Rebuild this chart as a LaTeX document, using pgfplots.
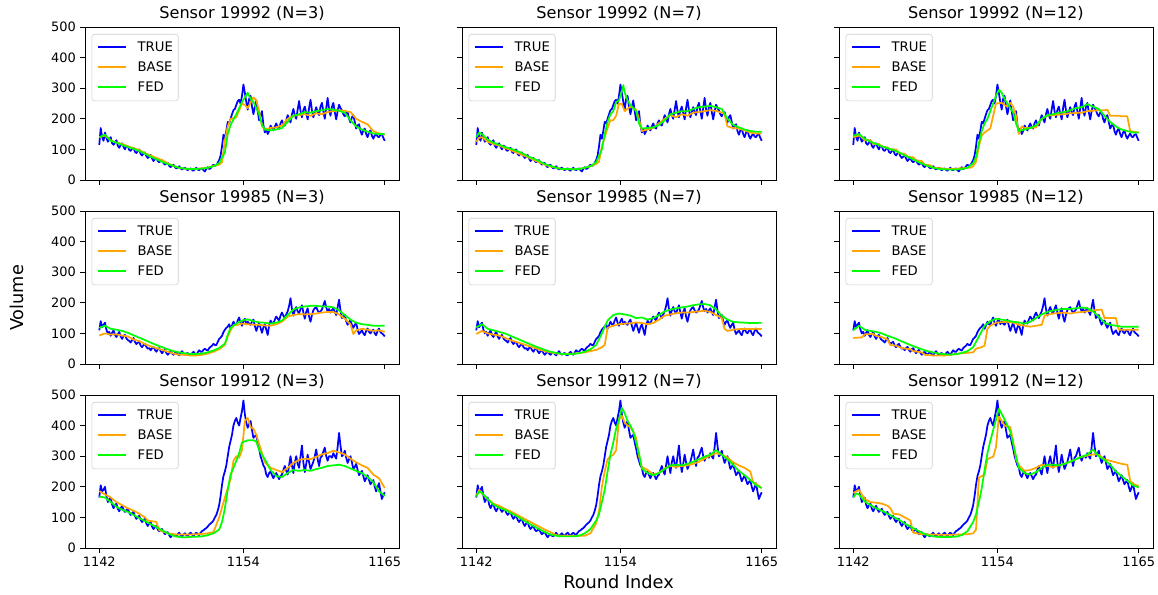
\documentclass[border=0pt]{standalone}
\usepackage{fontspec}
\setmainfont{DejaVu Sans}
\usepackage{pgfplots}
\usepackage{pgfplotstable}
\pgfplotsset{compat=1.18}

\definecolor{cTrue}{RGB}{0,0,255}
\definecolor{cBase}{RGB}{255,165,0}
\definecolor{cFed}{RGB}{0,255,0}

\pgfplotstableread[row sep=\\]{x y\\0 115\\0.5 170\\1 140\\1.5 128\\2 155\\2.5 138\\3 125\\3.5 132\\4 140\\4.5 120\\5 115\\5.5 122\\6 130\\6.5 112\\7 105\\7.5 115\\8 120\\8.5 108\\9 100\\9.5 112\\10 110\\10.5 98\\11 95\\11.5 102\\12 105\\12.5 92\\13 88\\13.5 95\\14 100\\14.5 85\\15 80\\15.5 88\\16 90\\16.5 78\\17 72\\17.5 76\\18 82\\18.5 70\\19 62\\19.5 68\\20 72\\20.5 62\\21 58\\21.5 62\\22 65\\22.5 55\\23 50\\23.5 54\\24 56\\24.5 46\\25 42\\25.5 48\\26 50\\26.5 42\\27 38\\27.5 40\\28 45\\28.5 38\\29 34\\29.5 38\\30 40\\30.5 35\\31 32\\31.5 36\\32 38\\32.5 33\\33 30\\33.5 36\\34 40\\34.5 34\\35 32\\35.5 36\\36 38\\36.5 32\\37 28\\37.5 36\\38 42\\38.5 36\\39 38\\39.5 45\\40 50\\40.5 46\\41 48\\41.5 56\\42 65\\42.5 80\\43 110\\43.5 148\\44 135\\44.5 160\\45 190\\45.5 185\\46 200\\46.5 215\\47 228\\47.5 232\\48 245\\48.5 258\\49 262\\49.5 250\\50 275\\50.5 312\\51 285\\51.5 255\\52 230\\52.5 265\\53 275\\53.5 240\\54 215\\54.5 238\\55 260\\55.5 225\\56 195\\56.5 210\\57 225\\57.5 180\\58 155\\58.5 168\\59 150\\59.5 160\\60 178\\60.5 170\\61 162\\61.5 175\\62 185\\62.5 172\\63 168\\63.5 185\\64 195\\64.5 182\\65 178\\65.5 195\\66 212\\66.5 200\\67 188\\67.5 215\\68 232\\68.5 212\\69 200\\69.5 230\\70 258\\70.5 225\\71 205\\71.5 228\\72 240\\72.5 218\\73 198\\73.5 235\\74 262\\74.5 228\\75 205\\75.5 222\\76 238\\76.5 222\\77 212\\77.5 240\\78 252\\78.5 225\\79 200\\79.5 235\\80 268\\80.5 232\\81 210\\81.5 238\\82 252\\82.5 222\\83 198\\83.5 225\\84 246\\84.5 235\\85 228\\85.5 215\\86 208\\86.5 220\\87 222\\87.5 200\\88 188\\88.5 205\\89 212\\89.5 190\\90 168\\90.5 178\\91 182\\91.5 160\\92 148\\92.5 162\\93 168\\93.5 150\\94 140\\94.5 155\\95 162\\95.5 145\\96 135\\96.5 145\\97 152\\97.5 142\\98 140\\98.5 148\\99 150\\99.5 138\\100 128\\}\trueA

\pgfplotstableread[row sep=\\]{x y\\0 110\\0.5 140\\1 120\\1.5 128\\2 135\\2.5 112\\3 100\\3.5 105\\4 92\\4.5 102\\5 110\\5.5 95\\6 88\\6.5 98\\7 105\\7.5 90\\8 82\\8.5 92\\9 95\\9.5 84\\10 78\\10.5 76\\11 70\\11.5 78\\12 85\\12.5 72\\13 65\\13.5 70\\14 72\\14.5 60\\15 55\\15.5 62\\16 66\\16.5 56\\17 50\\17.5 52\\18 45\\18.5 52\\19 56\\19.5 46\\20 40\\20.5 48\\21 52\\21.5 42\\22 35\\22.5 42\\23 46\\23.5 36\\24 30\\24.5 36\\25 40\\25.5 34\\26 30\\26.5 36\\27 38\\27.5 32\\28 28\\28.5 36\\29 42\\29.5 34\\30 30\\30.5 34\\31 36\\31.5 30\\32 28\\32.5 35\\33 40\\33.5 34\\34 30\\34.5 38\\35 45\\35.5 40\\36 40\\36.5 46\\37 50\\37.5 46\\38 44\\38.5 52\\39 56\\39.5 60\\40 66\\40.5 62\\41 62\\41.5 72\\42 82\\42.5 86\\43 92\\43.5 104\\44 112\\44.5 118\\45 122\\45.5 130\\46 115\\46.5 126\\47 138\\47.5 130\\48 128\\48.5 142\\49 152\\49.5 135\\50 125\\50.5 140\\51 148\\51.5 130\\52 138\\52.5 132\\53 128\\53.5 138\\54 145\\54.5 125\\55 108\\55.5 122\\56 135\\56.5 118\\57 102\\57.5 120\\58 130\\58.5 112\\59 95\\59.5 125\\60 142\\60.5 135\\61 132\\61.5 145\\62 155\\62.5 148\\63 142\\63.5 158\\64 168\\64.5 158\\65 150\\65.5 162\\66 172\\66.5 190\\67 215\\67.5 180\\68 158\\68.5 175\\69 186\\69.5 172\\70 165\\70.5 180\\71 192\\71.5 168\\72 148\\72.5 170\\73 182\\73.5 155\\74 138\\74.5 160\\75 176\\75.5 182\\76 186\\76.5 175\\77 168\\77.5 172\\78 178\\78.5 192\\79 206\\79.5 185\\80 172\\80.5 180\\81 168\\81.5 176\\82 182\\82.5 170\\83 160\\83.5 185\\84 210\\84.5 175\\85 150\\85.5 155\\86 160\\86.5 140\\87 128\\87.5 138\\88 142\\88.5 128\\89 118\\89.5 128\\90 135\\90.5 112\\91 98\\91.5 104\\92 110\\92.5 100\\93 94\\93.5 108\\94 116\\94.5 105\\95 100\\95.5 108\\96 112\\96.5 100\\97 94\\97.5 108\\98 116\\98.5 104\\99 100\\99.5 96\\100 90\\}\trueB

\pgfplotstableread[row sep=\\]{x y\\0 165\\0.5 205\\1 185\\1.5 190\\2 200\\2.5 170\\3 150\\3.5 160\\4 165\\4.5 142\\5 130\\5.5 140\\6 145\\6.5 128\\7 120\\7.5 130\\8 138\\8.5 125\\9 118\\9.5 124\\10 128\\10.5 115\\11 108\\11.5 114\\12 118\\12.5 104\\13 95\\13.5 102\\14 105\\14.5 92\\15 85\\15.5 92\\16 95\\16.5 80\\17 72\\17.5 80\\18 85\\18.5 70\\19 62\\19.5 68\\20 72\\20.5 60\\21 55\\21.5 58\\22 62\\22.5 52\\23 45\\23.5 50\\24 52\\24.5 42\\25 35\\25.5 42\\26 45\\26.5 40\\27 38\\27.5 45\\28 50\\28.5 42\\29 38\\29.5 44\\30 48\\30.5 42\\31 40\\31.5 46\\32 50\\32.5 44\\33 40\\33.5 46\\34 50\\34.5 45\\35 42\\35.5 50\\36 55\\36.5 58\\37 62\\37.5 65\\38 70\\38.5 76\\39 80\\39.5 84\\40 90\\40.5 100\\41 108\\41.5 122\\42 140\\42.5 170\\43 207\\43.5 235\\44 250\\44.5 270\\45 300\\45.5 330\\46 350\\46.5 370\\47 400\\47.5 415\\48 425\\48.5 410\\49 400\\49.5 425\\50 448\\50.5 482\\51 437\\51.5 410\\52 393\\52.5 405\\53 415\\53.5 385\\54 360\\54.5 365\\55 370\\55.5 345\\56 325\\56.5 300\\57 285\\57.5 270\\58 262\\58.5 240\\59 232\\59.5 245\\60 250\\60.5 238\\61 228\\61.5 240\\62 245\\62.5 235\\63 225\\63.5 235\\64 240\\64.5 255\\65 268\\65.5 252\\66 240\\66.5 270\\67 300\\67.5 270\\68 245\\68.5 280\\69 300\\69.5 275\\70 262\\70.5 300\\71 335\\71.5 280\\72 248\\72.5 275\\73 305\\73.5 280\\74 258\\74.5 270\\75 282\\75.5 300\\76 322\\76.5 290\\77 268\\77.5 295\\78 300\\78.5 315\\79 328\\79.5 300\\80 285\\80.5 300\\81 300\\81.5 295\\82 310\\82.5 300\\83 292\\83.5 330\\84 376\\84.5 335\\85 300\\85.5 305\\86 318\\86.5 295\\87 278\\87.5 290\\88 300\\88.5 280\\89 258\\89.5 265\\90 275\\90.5 255\\91 238\\91.5 245\\92 252\\92.5 235\\93 218\\93.5 228\\94 238\\94.5 222\\95 208\\95.5 215\\96 222\\96.5 200\\97 185\\97.5 198\\98 212\\98.5 185\\99 160\\99.5 172\\100 182\\}\trueC

\newcommand{\legl}[1]{\tikz[baseline=-3.4pt]\draw[#1, line width=1.3pt] (0pt,0pt) -- (21pt,0pt);}
\newcommand{\manleg}{\node[anchor=north west, draw=black!20, rounded corners=2pt, fill=white, inner xsep=4pt, inner ysep=2.5pt, xshift=5pt, yshift=-5.25pt, font=\fontsize{9.9}{15}\selectfont] at (rel axis cs:0,1) {\begin{tabular}{@{}l@{\hspace{8pt}}l@{}}\legl{cTrue}&TRUE\\\legl{cBase}&BASE\\\legl{cFed}&FED\end{tabular}};}

\pgfplotsset{
  panel/.style={
    scale only axis, width=235.5pt, height=114.75pt,
    xmin=-5, xmax=105, ymin=0, ymax=500,
    xtick={0,50.5,100}, xticklabels={1142,1154,1165},
    ytick={0,100,200,300,400,500},
    tick align=outside, tickpos=left,
    major tick length=3.4pt,
    tick style={black, line width=0.6pt},
    axis line style={line width=0.6pt},
    ticklabel style={font=\fontsize{9.7}{11}\selectfont},
    /pgf/number format/assume math mode=true,
    title style={font=\fontsize{12.1}{14}\selectfont, at={(0.5,1)}, anchor=base, yshift=0.2pt, inner sep=0pt},
  },
  noxl/.style={xticklabels={}},
  noyl/.style={yticklabels={}},
  sTrue/.style={color=cTrue, line width=1.3pt, line join=round},
  sBase/.style={color=cBase, line width=1.3pt, line join=round},
  sFed/.style={color=cFed, line width=1.3pt, line join=round},
}

\begin{document}
\begin{tikzpicture}
\useasboundingbox (0pt,0pt) rectangle (868.5pt,-446.25pt);

% Row 1
\begin{axis}[panel, noxl, at={(63.75pt,-20.25pt)}, anchor=north west, title={Sensor 19992 (N=3)}]
\addplot[sTrue] table {\trueA};
\addplot[sBase] coordinates {(0,140)(2,145)(4,130)(6,122)(8,118)(10,110)(12,104)(14,98)(16,88)(18,80)(20,72)(22,65)(24,55)(26,46)(28,40)(30,37)(32,36)(34,37)(36,38)(38,40)(40,46)(42,50)(43,58)(44,130)(45,175)(46,200)(48,205)(50,250)(51,245)(52,235)(54,270)(55,260)(56,225)(57,175)(58,165)(60,170)(62,172)(64,178)(66,200)(68,210)(70,212)(72,215)(74,210)(76,218)(78,215)(80,222)(82,225)(84,228)(86,226)(88,222)(90,200)(92,190)(94,182)(96,160)(98,152)(100,148)};
\addplot[sFed] coordinates {(0,140)(2,148)(4,128)(6,122)(8,115)(10,108)(12,102)(14,95)(16,86)(18,76)(20,68)(22,60)(24,52)(26,46)(28,40)(30,37)(32,36)(34,36)(36,37)(38,40)(40,45)(42,55)(44,90)(45,150)(46,180)(48,215)(50,255)(51,270)(52,285)(53,265)(54,255)(56,215)(57,180)(58,165)(60,162)(62,165)(64,170)(66,190)(68,210)(70,215)(72,222)(74,220)(76,225)(78,228)(80,232)(82,230)(84,226)(86,220)(88,195)(90,175)(92,165)(94,158)(96,152)(98,150)(100,150)};
\manleg
\end{axis}

\begin{axis}[panel, noxl, noyl, at={(346.5pt,-20.25pt)}, anchor=north west, title={Sensor 19992 (N=7)}]
\addplot[sTrue] table {\trueA};
\addplot[sBase] coordinates {(0,125)(1,138)(2,140)(4,125)(6,118)(8,112)(10,105)(12,98)(14,90)(16,82)(18,75)(20,66)(22,58)(24,50)(26,44)(28,40)(30,36)(32,35)(34,35)(36,36)(38,40)(40,45)(42,52)(43,60)(44,110)(45,140)(46,170)(47,195)(48,195)(49,210)(50,250)(51,248)(52,225)(54,240)(56,230)(57,200)(58,160)(60,165)(62,170)(64,185)(66,200)(68,212)(70,205)(72,215)(74,210)(76,220)(78,222)(80,225)(82,228)(84,226)(86,220)(87,215)(88,175)(90,170)(92,168)(94,162)(96,155)(98,152)(100,152)};
\addplot[sFed] coordinates {(0,140)(1,155)(2,150)(4,132)(6,122)(8,115)(10,108)(12,102)(14,96)(16,88)(18,78)(20,70)(22,62)(24,52)(26,46)(28,40)(30,36)(32,36)(34,35)(36,36)(38,40)(40,45)(42,58)(44,100)(45,150)(46,190)(47,215)(48,225)(49,255)(50,260)(51,290)(51.5,310)(52,285)(53,260)(54,245)(56,225)(57,185)(58,168)(60,170)(62,172)(64,180)(66,195)(68,215)(70,220)(72,225)(74,225)(76,232)(78,238)(80,240)(82,242)(84,238)(86,232)(88,200)(90,180)(92,172)(94,165)(96,160)(98,158)(100,158)};
\manleg
\end{axis}

\begin{axis}[panel, noxl, noyl, at={(629.25pt,-20.25pt)}, anchor=north west, title={Sensor 19992 (N=12)}]
\addplot[sTrue] table {\trueA};
\addplot[sBase] coordinates {(0,140)(2,145)(3,140)(4,130)(6,130)(7,118)(9,118)(10,110)(12,106)(13,100)(15,100)(16,88)(18,86)(19,76)(21,74)(22,64)(24,62)(25,50)(27,48)(28,40)(31,38)(32,36)(36,36)(37,38)(41,40)(42,45)(43,60)(44,110)(45,145)(46,155)(47,162)(48,168)(49,210)(50,250)(52,252)(53,245)(54,240)(55,252)(56,240)(57,210)(58,150)(59,175)(60,170)(62,170)(64,172)(66,200)(68,210)(70,212)(74,215)(76,218)(80,220)(82,225)(86,228)(88,228)(89,230)(90,210)(93,210)(94,208)(96,208)(97,160)(100,155)};
\addplot[sFed] coordinates {(0,145)(2,150)(4,135)(6,125)(8,118)(10,110)(12,104)(14,98)(16,90)(18,80)(20,72)(22,62)(24,54)(26,46)(28,40)(30,36)(32,35)(34,34)(36,34)(38,36)(40,40)(42,55)(43,75)(44,120)(45,160)(46,185)(47,200)(48,225)(49,250)(50,275)(51,295)(52,285)(53,265)(54,250)(56,220)(57,185)(58,160)(60,165)(62,170)(64,178)(66,200)(68,212)(70,215)(72,220)(74,222)(76,228)(78,235)(80,238)(82,248)(84,240)(86,232)(88,210)(90,190)(92,175)(94,165)(96,160)(98,155)(100,155)};
\manleg
\end{axis}

% Row 2
\begin{axis}[panel, noxl, at={(63.75pt,-158.25pt)}, anchor=north west, title={Sensor 19985 (N=3)}]
\addplot[sTrue] table {\trueB};
\addplot[sBase] coordinates {(0,93)(2,100)(4,96)(6,97)(8,93)(10,90)(12,80)(14,75)(16,65)(18,58)(20,52)(22,46)(24,40)(26,34)(28,30)(30,30)(32,28)(34,28)(36,30)(38,34)(40,40)(42,48)(44,62)(45,90)(46,110)(47,125)(48,127)(50,132)(52,130)(54,128)(56,128)(58,126)(60,125)(62,130)(64,138)(66,155)(68,160)(70,163)(72,162)(74,163)(76,165)(78,168)(80,170)(82,170)(84,162)(86,148)(88,130)(89,98)(90,110)(92,115)(94,112)(96,108)(98,110)(100,105)};
\addplot[sFed] coordinates {(0,118)(2,125)(4,115)(6,112)(8,108)(10,102)(12,94)(14,86)(16,78)(18,70)(20,62)(22,55)(24,48)(26,42)(28,38)(30,35)(32,33)(34,33)(36,34)(38,38)(40,44)(42,52)(44,66)(45,95)(46,118)(48,132)(50,142)(52,146)(54,140)(56,136)(58,135)(60,132)(62,135)(64,142)(66,160)(68,178)(70,185)(72,188)(74,190)(76,190)(78,188)(80,188)(82,185)(84,175)(86,160)(88,145)(90,135)(92,130)(94,128)(96,125)(98,125)(100,125)};
\manleg
\end{axis}

\begin{axis}[panel, noxl, noyl, at={(346.5pt,-158.25pt)}, anchor=north west, title={Sensor 19985 (N=7)}]
\addplot[sTrue] table {\trueB};
\addplot[sBase] coordinates {(0,98)(2,108)(4,100)(6,96)(8,93)(10,86)(12,78)(14,72)(16,66)(18,60)(20,54)(22,48)(24,42)(26,38)(28,34)(30,33)(32,33)(34,34)(36,36)(38,38)(40,42)(42,46)(44,55)(45,62)(46,118)(47,122)(48,125)(50,130)(52,132)(54,133)(56,136)(58,134)(60,130)(62,134)(64,145)(66,158)(68,162)(70,166)(72,168)(74,168)(76,170)(78,172)(80,174)(82,170)(84,160)(86,150)(87,115)(88,108)(90,112)(92,114)(94,114)(96,114)(98,115)(100,114)};
\addplot[sFed] coordinates {(0,120)(2,130)(4,115)(6,110)(8,105)(10,100)(12,92)(14,84)(16,76)(18,68)(20,60)(22,53)(24,46)(26,40)(28,36)(30,33)(32,32)(34,33)(36,35)(38,40)(40,48)(42,62)(44,100)(46,142)(48,160)(50,165)(52,162)(54,158)(56,150)(58,152)(60,145)(62,150)(64,160)(66,172)(68,178)(70,182)(72,185)(74,188)(76,192)(78,195)(80,196)(82,192)(84,178)(86,158)(88,145)(90,138)(92,136)(94,135)(96,134)(98,134)(100,135)};
\manleg
\end{axis}

\begin{axis}[panel, noxl, noyl, at={(629.25pt,-158.25pt)}, anchor=north west, title={Sensor 19985 (N=12)}]
\addplot[sTrue] table {\trueB};
\addplot[sBase] coordinates {(0,85)(3,87)(4,97)(7,98)(8,92)(10,88)(12,80)(13,62)(15,60)(17,52)(20,48)(21,42)(24,38)(25,30)(28,28)(32,28)(34,30)(36,33)(38,35)(42,38)(43,50)(45,55)(46,60)(47,115)(48,125)(50,135)(54,138)(56,135)(58,128)(60,125)(62,122)(66,128)(67,158)(70,165)(74,168)(76,165)(78,168)(80,170)(82,172)(84,175)(87,178)(88,150)(92,150)(93,112)(96,112)(100,112)};
\addplot[sFed] coordinates {(0,110)(2,125)(4,112)(6,108)(8,105)(10,100)(12,92)(14,86)(16,78)(18,70)(20,62)(22,55)(24,48)(26,42)(28,38)(30,34)(32,32)(34,31)(36,32)(38,36)(40,42)(42,55)(44,90)(46,125)(48,140)(50,148)(52,145)(54,142)(56,138)(58,136)(60,132)(62,138)(64,150)(66,162)(68,170)(70,175)(72,178)(74,180)(76,180)(78,182)(80,185)(82,182)(84,172)(86,155)(88,135)(90,128)(92,125)(94,122)(96,122)(98,122)(100,122)};
\manleg
\end{axis}

% Row 3
\begin{axis}[panel, at={(63.75pt,-296.25pt)}, anchor=north west, title={Sensor 19912 (N=3)}]
\addplot[sTrue] table {\trueC};
\addplot[sBase] coordinates {(0,186)(2,175)(4,165)(6,150)(8,140)(10,130)(12,122)(14,112)(16,100)(17,90)(20,85)(21,58)(24,48)(26,45)(28,44)(30,44)(32,44)(34,45)(36,46)(38,48)(40,52)(42,100)(44,165)(46,225)(47,285)(48,300)(49,295)(50,320)(51,415)(52,425)(53,395)(54,390)(55,370)(56,340)(57,310)(58,280)(60,262)(62,255)(64,248)(66,262)(68,278)(70,288)(72,292)(74,290)(76,298)(78,306)(80,310)(82,318)(84,312)(86,306)(88,292)(90,280)(92,270)(94,262)(96,240)(98,228)(100,196)};
\addplot[sFed] coordinates {(0,168)(2,165)(4,150)(6,135)(8,125)(10,118)(12,108)(14,98)(16,88)(18,78)(20,68)(22,58)(24,48)(26,40)(28,36)(30,35)(32,36)(34,37)(36,38)(38,42)(40,48)(42,60)(43,85)(44,130)(45,190)(46,240)(47,262)(48,285)(49,310)(50,345)(52,352)(54,352)(55,348)(56,320)(58,290)(60,255)(62,235)(64,232)(66,245)(68,255)(70,252)(72,255)(74,252)(76,258)(78,262)(80,268)(82,270)(84,272)(86,268)(88,260)(90,252)(92,245)(94,232)(96,215)(98,185)(100,170)};
\manleg
\end{axis}

\begin{axis}[panel, noyl, at={(346.5pt,-296.25pt)}, anchor=north west, title={Sensor 19912 (N=7)}]
\addplot[sTrue] table {\trueC};
\addplot[sBase] coordinates {(0,170)(1,190)(2,178)(4,160)(6,145)(8,138)(10,128)(12,120)(14,110)(16,100)(18,90)(20,80)(22,70)(24,60)(26,52)(28,42)(30,40)(32,40)(34,40)(36,40)(38,40)(40,48)(42,80)(43,120)(44,200)(45,250)(46,290)(47,300)(48,305)(49,320)(50,420)(51,432)(52,410)(53,400)(54,395)(55,380)(56,360)(57,300)(58,265)(60,255)(62,240)(64,245)(66,260)(68,268)(70,265)(72,268)(74,270)(76,275)(78,282)(80,292)(82,302)(84,310)(86,305)(88,296)(90,280)(92,270)(94,262)(96,250)(97,215)(98,210)(100,196)};
\addplot[sFed] coordinates {(0,168)(1,185)(2,180)(4,160)(6,142)(8,132)(10,125)(12,115)(14,105)(16,94)(18,82)(20,72)(22,62)(24,52)(26,44)(28,40)(30,38)(32,38)(34,38)(36,40)(38,48)(40,62)(42,90)(43,110)(44,150)(45,190)(46,250)(47,305)(48,345)(49,390)(50,420)(51,458)(52,440)(53,415)(54,400)(55,380)(56,345)(57,310)(58,260)(60,245)(62,238)(64,245)(66,258)(68,270)(70,272)(72,270)(74,275)(76,282)(78,290)(80,298)(82,305)(84,320)(86,305)(88,290)(90,272)(92,252)(94,238)(96,222)(98,205)(100,196)};
\manleg
\end{axis}

\begin{axis}[panel, noyl, at={(629.25pt,-296.25pt)}, anchor=north west, title={Sensor 19912 (N=12)}]
\addplot[sTrue] table {\trueC};
\addplot[sBase] coordinates {(0,180)(2,190)(4,160)(6,150)(8,148)(10,145)(12,138)(13,130)(14,112)(16,110)(17,105)(19,95)(20,90)(21,50)(24,45)(28,44)(32,43)(36,44)(40,45)(42,48)(43,60)(44,230)(46,240)(47,290)(48,295)(49,298)(50,330)(51,430)(52,415)(53,400)(54,398)(55,395)(56,350)(57,290)(58,270)(60,252)(62,255)(64,262)(66,272)(68,268)(70,264)(72,270)(74,275)(76,282)(78,290)(80,298)(82,302)(84,306)(86,305)(88,290)(90,285)(92,280)(94,275)(96,272)(97,220)(98,210)(100,202)};
\addplot[sFed] coordinates {(0,165)(1,178)(2,175)(4,152)(6,140)(8,130)(10,122)(12,112)(14,102)(16,92)(18,80)(20,70)(22,60)(24,50)(26,42)(28,38)(30,36)(32,36)(34,36)(36,37)(38,42)(40,55)(42,85)(43,110)(44,150)(45,195)(46,255)(47,310)(48,350)(49,385)(50,420)(51,455)(52,438)(53,420)(54,400)(55,380)(56,340)(57,300)(58,262)(60,245)(62,240)(64,248)(66,262)(68,272)(70,272)(72,270)(74,275)(76,282)(78,290)(80,298)(82,305)(84,322)(86,300)(88,288)(90,272)(92,250)(94,235)(96,220)(98,205)(100,198)};
\manleg
\end{axis}

\node[rotate=90, anchor=center, font=\fontsize{13.3}{15}\selectfont] at (12.75pt,-223.5pt) {Volume};
\node[anchor=base, font=\fontsize{13.3}{15}\selectfont, inner sep=0pt] at (463.9pt,-441pt) {Round Index};
\end{tikzpicture}
\end{document}
